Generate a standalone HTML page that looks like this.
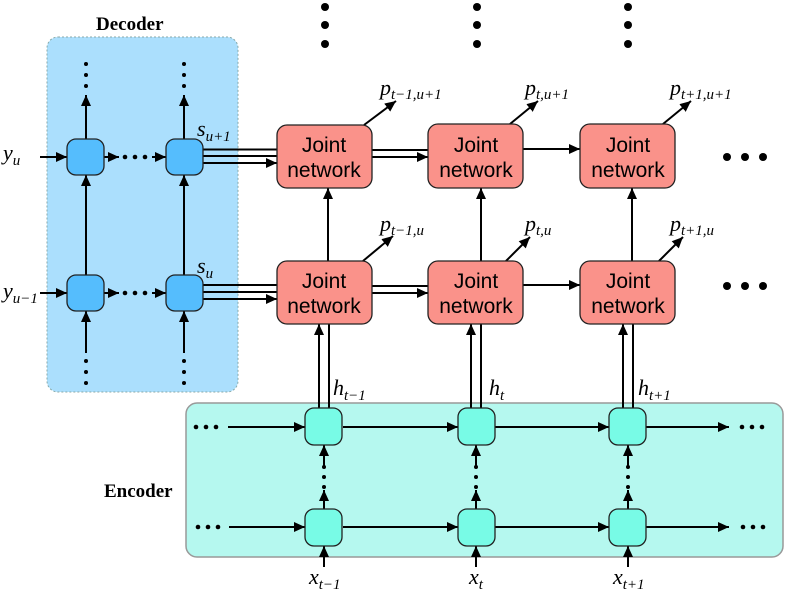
<!DOCTYPE html>
<html><head><meta charset="utf-8"><style>
html,body{margin:0;padding:0;background:#fff;}
svg{display:block;}
.jt{font-family:"Liberation Sans",sans-serif;font-size:21px;fill:#000;text-anchor:middle;}
.it{font-family:"Liberation Serif",serif;font-style:italic;font-size:22px;fill:#000;}
.sb{font-family:"Liberation Serif",serif;font-style:italic;font-size:15px;}
.bd{font-family:"Liberation Serif",serif;font-weight:bold;font-size:19px;fill:#000;}
</style></head><body>
<svg width="789" height="597" viewBox="0 0 789 597" xmlns="http://www.w3.org/2000/svg">
<defs>
<marker id="a" markerUnits="userSpaceOnUse" markerWidth="12" markerHeight="10" refX="11" refY="5" orient="auto"><path d="M0,0 L11,5 L0,10 z" fill="#000"/></marker>
</defs>
<rect x="47" y="37" width="191" height="355" rx="11" fill="#abdffd" stroke="#8aa" stroke-dasharray="2,2" stroke-width="1"/>
<text class="bd" x="96" y="30">Decoder</text>
<rect x="186" y="403" width="597" height="154" rx="11" fill="#b5f8ef" stroke="#999" stroke-width="1.5"/>
<text class="bd" x="104" y="497">Encoder</text>

<g stroke="#000" stroke-width="2" fill="none">
<line x1="40" y1="157" x2="67" y2="157" marker-end="url(#a)"/>
<line x1="40" y1="293" x2="67" y2="293" marker-end="url(#a)"/>
<line x1="104" y1="157" x2="119" y2="157" marker-end="url(#a)"/>
<line x1="104" y1="293" x2="119" y2="293" marker-end="url(#a)"/>
<line x1="152" y1="157" x2="166" y2="157" marker-end="url(#a)"/>
<line x1="152" y1="293" x2="166" y2="293" marker-end="url(#a)"/>
<line x1="86" y1="139" x2="86" y2="95" marker-end="url(#a)"/>
<line x1="184" y1="139" x2="184" y2="95" marker-end="url(#a)"/>
<line x1="86" y1="275" x2="86" y2="175" marker-end="url(#a)"/>
<line x1="184" y1="275" x2="184" y2="175" marker-end="url(#a)"/>
<line x1="86" y1="353" x2="86" y2="311" marker-end="url(#a)"/>
<line x1="184" y1="353" x2="184" y2="311" marker-end="url(#a)"/>
<line x1="203" y1="149.5" x2="277" y2="149.5"/>
<line x1="203" y1="156" x2="277" y2="156"/>
<line x1="203" y1="163" x2="277" y2="163" marker-end="url(#a)"/>
<line x1="203" y1="285" x2="277" y2="285"/>
<line x1="203" y1="292" x2="277" y2="292"/>
<line x1="203" y1="299" x2="277" y2="299" marker-end="url(#a)"/>
<line x1="372" y1="150" x2="428" y2="150"/>
<line x1="372" y1="157" x2="428" y2="157" marker-end="url(#a)"/>
<line x1="372" y1="286" x2="428" y2="286"/>
<line x1="372" y1="293" x2="428" y2="293" marker-end="url(#a)"/>
<line x1="523" y1="149" x2="580" y2="149" marker-end="url(#a)"/>
<line x1="523" y1="285" x2="580" y2="285" marker-end="url(#a)"/>
<line x1="328" y1="261" x2="328" y2="188" marker-end="url(#a)"/>
<line x1="481" y1="261" x2="481" y2="188" marker-end="url(#a)"/>
<line x1="632" y1="261" x2="632" y2="188" marker-end="url(#a)"/>
<line x1="319" y1="408" x2="319" y2="324" marker-end="url(#a)"/>
<line x1="329" y1="408" x2="329" y2="324"/>
<line x1="471" y1="408" x2="471" y2="324" marker-end="url(#a)"/>
<line x1="481" y1="408" x2="481" y2="324"/>
<line x1="623" y1="408" x2="623" y2="324" marker-end="url(#a)"/>
<line x1="633" y1="408" x2="633" y2="324"/>
<line x1="364" y1="125" x2="396" y2="101" marker-end="url(#a)"/>
<line x1="510" y1="124" x2="538" y2="101" marker-end="url(#a)"/>
<line x1="663" y1="124" x2="691" y2="101" marker-end="url(#a)"/>
<line x1="363" y1="261" x2="393" y2="236" marker-end="url(#a)"/>
<line x1="506" y1="261" x2="530" y2="237" marker-end="url(#a)"/>
<line x1="659" y1="261" x2="683" y2="237" marker-end="url(#a)"/>
<line x1="228" y1="427" x2="305" y2="427" marker-end="url(#a)"/>
<line x1="229" y1="527" x2="305" y2="527" marker-end="url(#a)"/>
<line x1="343" y1="427" x2="458" y2="427" marker-end="url(#a)"/>
<line x1="343" y1="527" x2="458" y2="527" marker-end="url(#a)"/>
<line x1="495" y1="427" x2="609" y2="427" marker-end="url(#a)"/>
<line x1="495" y1="527" x2="609" y2="527" marker-end="url(#a)"/>
<line x1="646" y1="427" x2="729" y2="427" marker-end="url(#a)"/>
<line x1="646" y1="527" x2="729" y2="527" marker-end="url(#a)"/>
<line x1="324" y1="468" x2="324" y2="445" marker-end="url(#a)"/>
<line x1="476" y1="468" x2="476" y2="445" marker-end="url(#a)"/>
<line x1="628" y1="468" x2="628" y2="445" marker-end="url(#a)"/>
<line x1="324" y1="509" x2="324" y2="490" marker-end="url(#a)"/>
<line x1="476" y1="509" x2="476" y2="490" marker-end="url(#a)"/>
<line x1="628" y1="509" x2="628" y2="490" marker-end="url(#a)"/>
<line x1="324" y1="567" x2="324" y2="546" marker-end="url(#a)"/>
<line x1="476" y1="567" x2="476" y2="546" marker-end="url(#a)"/>
<line x1="628" y1="567" x2="628" y2="546" marker-end="url(#a)"/>
</g>

<g fill="#55bdfd" stroke="#222" stroke-width="1.3">
<rect x="67" y="139" width="37" height="36" rx="9"/>
<rect x="166" y="139" width="37" height="36" rx="9"/>
<rect x="67" y="275" width="37" height="36" rx="9"/>
<rect x="166" y="275" width="37" height="36" rx="9"/>
</g>
<g fill="#78fbe6" stroke="#222" stroke-width="1.3">
<rect x="305" y="408" width="37" height="37" rx="9"/>
<rect x="458" y="408" width="37" height="37" rx="9"/>
<rect x="609" y="408" width="37" height="37" rx="9"/>
<rect x="305" y="509" width="37" height="37" rx="9"/>
<rect x="458" y="509" width="37" height="37" rx="9"/>
<rect x="609" y="509" width="37" height="37" rx="9"/>
</g>
<g fill="#fa928a" stroke="#222" stroke-width="1.3">
<rect x="277" y="125" width="95" height="63" rx="10"/>
<rect x="428" y="124" width="95" height="64" rx="10"/>
<rect x="580" y="124" width="95" height="64" rx="10"/>
<rect x="277" y="261" width="95" height="63" rx="10"/>
<rect x="428" y="261" width="95" height="63" rx="10"/>
<rect x="580" y="261" width="95" height="63" rx="10"/>
</g>
<g class="jt">
<text x="324" y="152">Joint</text><text x="324" y="177">network</text>
<text x="476" y="152">Joint</text><text x="476" y="177">network</text>
<text x="628" y="152">Joint</text><text x="628" y="177">network</text>
<text x="324" y="288">Joint</text><text x="324" y="313">network</text>
<text x="476" y="288">Joint</text><text x="476" y="313">network</text>
<text x="628" y="288">Joint</text><text x="628" y="313">network</text>
</g>

<g fill="#000">
<circle cx="325" cy="7" r="4"/><circle cx="325" cy="25" r="4"/><circle cx="325" cy="44" r="4"/>
<circle cx="477" cy="7" r="4"/><circle cx="477" cy="25" r="4"/><circle cx="477" cy="44" r="4"/>
<circle cx="628" cy="7" r="4"/><circle cx="628" cy="25" r="4"/><circle cx="628" cy="44" r="4"/>
<circle cx="727" cy="157" r="4"/><circle cx="745" cy="157" r="4"/><circle cx="763" cy="157" r="4"/>
<circle cx="727" cy="286" r="4"/><circle cx="745" cy="286" r="4"/><circle cx="763" cy="286" r="4"/>
<circle cx="86" cy="64" r="2"/><circle cx="86" cy="75" r="2"/><circle cx="86" cy="86" r="2"/>
<circle cx="184" cy="64" r="2"/><circle cx="184" cy="75" r="2"/><circle cx="184" cy="86" r="2"/>
<circle cx="86" cy="361" r="2"/><circle cx="86" cy="372" r="2"/><circle cx="86" cy="383" r="2"/>
<circle cx="184" cy="361" r="2"/><circle cx="184" cy="372" r="2"/><circle cx="184" cy="383" r="2"/>
<circle cx="125" cy="157" r="2.3"/><circle cx="135" cy="157" r="2.3"/><circle cx="145" cy="157" r="2.3"/>
<circle cx="125" cy="293" r="2.3"/><circle cx="135" cy="293" r="2.3"/><circle cx="145" cy="293" r="2.3"/>
<circle cx="196" cy="427" r="2.3"/><circle cx="206" cy="427" r="2.3"/><circle cx="216" cy="427" r="2.3"/>
<circle cx="198" cy="527" r="2.3"/><circle cx="208" cy="527" r="2.3"/><circle cx="218" cy="527" r="2.3"/>
<circle cx="742" cy="427" r="2.3"/><circle cx="752" cy="427" r="2.3"/><circle cx="762" cy="427" r="2.3"/>
<circle cx="743" cy="527" r="2.3"/><circle cx="753" cy="527" r="2.3"/><circle cx="763" cy="527" r="2.3"/>
<circle cx="324" cy="467" r="2"/><circle cx="324" cy="477" r="2"/><circle cx="324" cy="487" r="2"/>
<circle cx="476" cy="467" r="2"/><circle cx="476" cy="477" r="2"/><circle cx="476" cy="487" r="2"/>
<circle cx="628" cy="467" r="2"/><circle cx="628" cy="477" r="2"/><circle cx="628" cy="487" r="2"/>
</g>

<text class="it" x="3" y="160">y<tspan class="sb" dy="5">u</tspan></text>
<text class="it" x="3" y="298">y<tspan class="sb" dy="5">u−1</tspan></text>
<text class="it" x="197" y="136">s<tspan class="sb" dy="5">u+1</tspan></text>
<text class="it" x="197" y="273">s<tspan class="sb" dy="5">u</tspan></text>
<text class="it" x="380" y="95">p<tspan class="sb" dy="4">t−1,u+1</tspan></text>
<text class="it" x="525" y="95">p<tspan class="sb" dy="4">t,u+1</tspan></text>
<text class="it" x="670" y="95">p<tspan class="sb" dy="4">t+1,u+1</tspan></text>
<text class="it" x="380" y="231">p<tspan class="sb" dy="4">t−1,u</tspan></text>
<text class="it" x="525" y="231">p<tspan class="sb" dy="4">t,u</tspan></text>
<text class="it" x="670" y="231">p<tspan class="sb" dy="4">t+1,u</tspan></text>
<text class="it" x="333" y="395">h<tspan class="sb" dy="5">t−1</tspan></text>
<text class="it" x="489" y="395">h<tspan class="sb" dy="5">t</tspan></text>
<text class="it" x="638" y="395">h<tspan class="sb" dy="5">t+1</tspan></text>
<text class="it" x="309" y="584">x<tspan class="sb" dy="5">t−1</tspan></text>
<text class="it" x="469" y="584">x<tspan class="sb" dy="5">t</tspan></text>
<text class="it" x="613" y="584">x<tspan class="sb" dy="5">t+1</tspan></text>
</svg>
</body></html>
